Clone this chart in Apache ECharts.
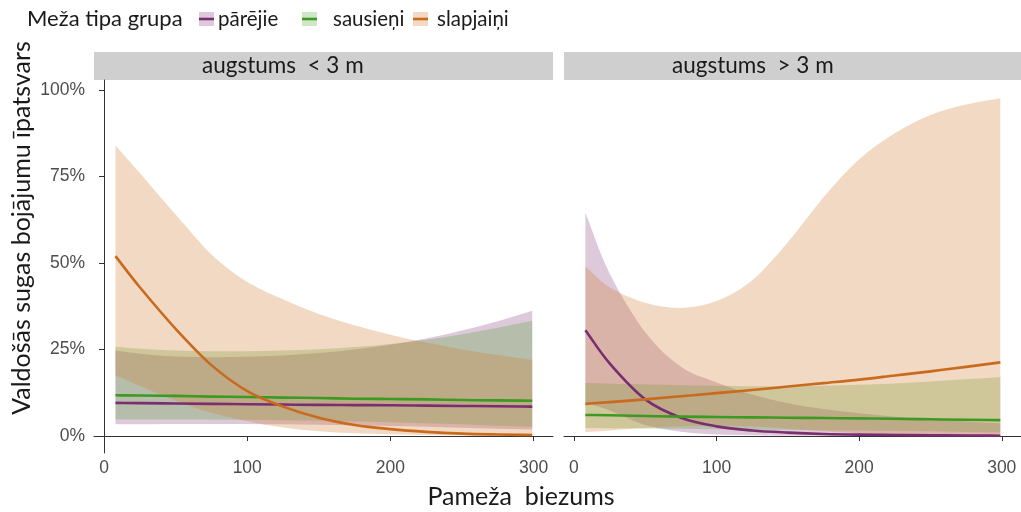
<!DOCTYPE html>
<html>
<head>
<meta charset="utf-8">
<script src="https://cdn.jsdelivr.net/npm/echarts@6/dist/echarts.min.js"></script>
<style>
  html, body { margin: 0; padding: 0; background: #fff; }
  #chart { width: 1021px; height: 512px; }
</style>
</head>
<body>
<div id="chart"></div>
<script>
// Pameža biezums (x) at which the fitted curves are evaluated
const xs = [8, 25, 50, 75, 100, 125, 150, 175, 200, 225, 250, 275, 299];
const xTicks = [0, 100, 200, 300];
const yTicks = [0, 25, 50, 75, 100];
const groups = ['pārējie', 'sausieņi', 'slapjaiņi'];
const panels = ['augstums  < 3 m', 'augstums  > 3 m'];

// augstums < 3 m
const pLineL = [9.6, 9.5, 9.4, 9.3, 9.2, 9.1, 9.0, 8.95, 8.9, 8.8, 8.7, 8.6, 8.5];
const pUpL   = [24.7, 23.8, 23.0, 22.8, 22.9, 23.3, 24.0, 25.0, 26.4, 28.2, 30.5, 33.2, 36.2];
const pLoL   = [3.4, 3.4, 3.5, 3.5, 3.5, 3.4, 3.3, 3.1, 2.9, 2.7, 2.4, 2.1, 1.9];
const gLineL = [11.8, 11.7, 11.6, 11.4, 11.3, 11.1, 11.0, 10.8, 10.7, 10.6, 10.4, 10.3, 10.2];
const gUpL   = [25.8, 25.2, 24.7, 24.5, 24.5, 24.7, 25.1, 25.7, 26.6, 27.8, 29.4, 31.3, 33.3];
const gLoL   = [4.8, 4.8, 4.8, 4.8, 4.7, 4.6, 4.4, 4.2, 4.0, 3.7, 3.4, 3.0, 2.7];
const oLineL = [52, 43, 31, 20.5, 13, 8.5, 5.3, 3.2, 2.0, 1.2, 0.7, 0.45, 0.3];
const oUpL   = [84, 76, 64, 52.5, 44.5, 39.5, 35.3, 32, 29.3, 27, 25, 23.4, 22];
const oLoL   = [17.6, 14.5, 10.2, 6.7, 4.3, 2.5, 1.4, 0.8, 0.5, 0.3, 0.2, 0.1, 0.1];

// augstums > 3 m
const pLineR = [30.6, 21, 10.6, 5.3, 2.8, 1.6, 1.0, 0.6, 0.4, 0.3, 0.2, 0.15, 0.1];
const pUpR   = [64.5, 47, 30, 20, 15.5, 12, 9.5, 7.8, 6.6, 5.6, 4.8, 4.2, 3.7];
const pLoR   = [9.6, 7.4, 3.2, 1.25, 0.45, 0.2, 0.1, 0.05, 0.03, 0.02, 0.01, 0.01, 0.01];
const gLineR = [6.1, 6.0, 5.8, 5.6, 5.5, 5.4, 5.3, 5.2, 5.1, 5.0, 4.85, 4.7, 4.6];
const gUpR   = [15.3, 15.1, 14.9, 14.7, 14.5, 14.4, 14.4, 14.5, 14.8, 15.2, 15.8, 16.4, 17.1];
const gLoR   = [2.3, 2.25, 2.2, 2.1, 2.0, 1.9, 1.8, 1.7, 1.6, 1.5, 1.35, 1.2, 1.1];
const oLineR = [9.3, 9.8, 10.6, 11.5, 12.4, 13.3, 14.3, 15.3, 16.3, 17.5, 18.7, 20.0, 21.3];
const oUpR   = [49, 43, 38.5, 37, 39, 45, 56, 69, 80, 87.5, 92.8, 95.8, 97.6];
const oLoR   = [1.1, 1.6, 2.3, 2.8, 3.0, 2.8, 2.1, 1.4, 0.9, 0.6, 0.4, 0.3, 0.2];

const lineColors = ['#7a2e70', '#3c9a22', '#c96a1c'];
const fillColors = ['rgba(122,46,112,0.26)', 'rgba(70,160,40,0.26)', 'rgba(208,120,40,0.28)'];

const panelData = [
  [[pLineL, pLoL, pUpL], [gLineL, gLoL, gUpL], [oLineL, oLoL, oUpL]],
  [[pLineR, pLoR, pUpR], [gLineR, gLoR, gUpR], [oLineR, oLoR, oUpR]]
];

// Catmull-Rom curve through pixel points, as SVG path commands
function curve(pts, move) {
  const n = pts.length;
  const at = i => {
    if (i < 0) return [2 * pts[0][0] - pts[1][0], 2 * pts[0][1] - pts[1][1]];
    if (i >= n) return [2 * pts[n - 1][0] - pts[n - 2][0], 2 * pts[n - 1][1] - pts[n - 2][1]];
    return pts[i];
  };
  let d = (move ? 'M' : 'L') + pts[0][0] + ' ' + pts[0][1];
  for (let i = 0; i < n - 1; i++) {
    const p0 = at(i - 1), p1 = at(i), p2 = at(i + 1), p3 = at(i + 2);
    const c1 = [p1[0] + (p2[0] - p0[0]) / 6, p1[1] + (p2[1] - p0[1]) / 6];
    const c2 = [p2[0] - (p3[0] - p1[0]) / 6, p2[1] - (p3[1] - p1[1]) / 6];
    d += ' C' + c1[0] + ' ' + c1[1] + ' ' + c2[0] + ' ' + c2[1] + ' ' + p2[0] + ' ' + p2[1];
  }
  return d;
}

function bandSeries(gi, lo, up, color) {
  return {
    type: 'custom', xAxisIndex: gi, yAxisIndex: gi, silent: true, z: 1, data: [0],
    renderItem: (params, api) => {
      const top = xs.map((x, i) => api.coord([x, up[i]]));
      const bot = xs.map((x, i) => api.coord([x, lo[i]])).reverse();
      return { type: 'path', shape: { pathData: curve(top, true) + ' ' + curve(bot, false) + ' Z' },
               style: { fill: color, stroke: null } };
    }
  };
}

function lineSeries(gi, vals, color, name) {
  return {
    name: name, type: 'custom', xAxisIndex: gi, yAxisIndex: gi, silent: true, z: 3, data: [0],
    renderItem: (params, api) => {
      const pts = xs.map((x, i) => api.coord([x, vals[i]]));
      return { type: 'path', shape: { pathData: curve(pts, true) },
               style: { fill: null, stroke: color, lineWidth: 2.6 } };
    }
  };
}

const series = [];
panelData.forEach((pd, gi) => {
  pd.forEach(([line, lo, up], k) => series.push(bandSeries(gi, lo, up, fillColors[k])));
  pd.forEach(([line], k) => series.push(lineSeries(gi, line, lineColors[k], groups[k])));
});

const tickFont = { fontFamily: 'Liberation Sans', fontSize: 17.5, color: '#4d4d4d' };
const axisLine = { show: true, lineStyle: { color: '#333', width: 1 } };

const makeX = gi => ({
  type: 'value', gridIndex: gi, min: -7, max: 313.5,
  axisLine: axisLine,
  axisTick: { show: true, customValues: xTicks, length: 5, lineStyle: { color: '#333' } },
  axisLabel: Object.assign({ customValues: xTicks, margin: 6 }, tickFont),
  splitLine: { show: false }
});
const makeY = (gi, visible) => ({
  type: 'value', gridIndex: gi, min: -4.9, max: 102.9, show: visible,
  axisLine: axisLine,
  axisTick: { show: true, customValues: yTicks, length: 5, lineStyle: { color: '#333' } },
  axisLabel: Object.assign({ customValues: yTicks, margin: 9, formatter: v => v + '%' }, tickFont),
  splitLine: { show: false }
});

const titleFont = 'Lato';
const graphic = [];
// facet strips
[[94, 459], [564, 459]].forEach(([x, w], i) => {
  graphic.push({ type: 'rect', shape: { x: x, y: 52, width: w, height: 28 }, style: { fill: '#cfcfcf' }, silent: true });
  graphic.push({ type: 'text', x: x + 108, y: 66, style: { text: panels[i], fontFamily: titleFont, fontSize: 22.5, fill: '#1a1a1a', textVerticalAlign: 'middle' }, silent: true });
});
// legend
graphic.push({ type: 'text', x: 27, y: 19, style: { text: 'Meža tipa grupa', fontFamily: titleFont, fontSize: 22, fill: '#1a1a1a', textVerticalAlign: 'middle' } });
const keyX = [199, 302, 413];
const labX = [218, 333, 437];
groups.forEach((g, k) => {
  graphic.push({ type: 'rect', shape: { x: keyX[k], y: 12, width: 15, height: 14 }, style: { fill: fillColors[k] } });
  graphic.push({ type: 'line', shape: { x1: keyX[k], y1: 19, x2: keyX[k] + 15, y2: 19 }, style: { stroke: lineColors[k], lineWidth: 2.6 } });
  graphic.push({ type: 'text', x: labX[k], y: 19, style: { text: g, fontFamily: titleFont, fontSize: 20.5, fill: '#1a1a1a', textVerticalAlign: 'middle' } });
});
// axis titles
graphic.push({ type: 'text', x: 521, y: 497, style: { text: 'Pameža  biezums', fontFamily: titleFont, fontSize: 25, fill: '#1a1a1a', textAlign: 'center', textVerticalAlign: 'middle' } });
graphic.push({ type: 'text', x: 22, y: 228, rotation: Math.PI / 2, style: { text: 'Valdošās sugas bojājumu īpatsvars', fontFamily: titleFont, fontSize: 25, fill: '#1a1a1a', textAlign: 'center', textVerticalAlign: 'middle' } });

const chart = echarts.init(document.getElementById('chart'), null, { renderer: 'canvas' });
chart.setOption({
  animation: false,
  backgroundColor: '#fff',
  grid: [
    { left: 94, top: 80, width: 459, height: 373 },
    { left: 564, top: 80, width: 459, height: 373 }
  ],
  xAxis: [makeX(0), makeX(1)],
  yAxis: [makeY(0, true), makeY(1, false)],
  series: series,
  graphic: graphic
});
</script>
</body>
</html>
